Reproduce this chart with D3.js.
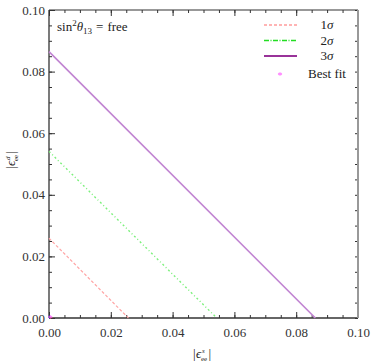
<!DOCTYPE html>
<html>
<head>
<meta charset="utf-8">
<script src="https://cdn.jsdelivr.net/npm/d3@7"></script>
<style>
  body { margin: 0; background: #fff; }
  svg text { font-family: "Liberation Serif", "Times New Roman", "DejaVu Serif", serif; }
</style>
</head>
<body>
<script>
// contour lines: |eps_s| vs |eps_d|, each a straight line between the axes
const levels = ["1σ", "2σ", "3σ"]
const xEnds = [0.0257, 0.0543, 0.0862]
const yEnds = [0.0259, 0.0541, 0.0865]
const colors = ["#ffa4a4", "#7cf07c", "#c184d2"]
const legendColors = ["#ff9c9c", "#22dd22", "#993399"]
const dashes = ["3,2", "2,2.5,1,2.5", null]
const legendDashes = ["3,2", "5,1.5,1,1.5", null]
const widths = [1.2, 1.4, 1.6]
const bestFit = [0.0004, 0.0002]
const ticks = [0, 0.02, 0.04, 0.06, 0.08, 0.10]

const w = 382, h = 364
const m = { left: 49, right: 24, top: 10, bottom: 46 }

const svg = d3.select("body").append("svg")
  .attr("width", w)
  .attr("height", h)

const x = d3.scaleLinear().domain([0, 0.1]).range([m.left, w - m.right])
const y = d3.scaleLinear().domain([0, 0.1]).range([h - m.bottom, m.top])

const minor = d3.range(0, 0.1001, 0.005)

// inward ticks on all four sides
const xAxis = d3.axisBottom(x).tickValues(minor).tickSize(-3).tickFormat("")
const xMajor = d3.axisBottom(x).tickValues(ticks).tickSize(-6).tickFormat(d3.format(".2f")).tickPadding(10)
const xTop = d3.axisTop(x).tickValues(minor).tickSize(-3).tickFormat("")
const xTopMajor = d3.axisTop(x).tickValues(ticks).tickSize(-6).tickFormat("")
const yAxis = d3.axisLeft(y).tickValues(minor).tickSize(-3).tickFormat("")
const yMajor = d3.axisLeft(y).tickValues(ticks).tickSize(-6).tickFormat(d3.format(".2f")).tickPadding(4)
const yRight = d3.axisRight(y).tickValues(minor).tickSize(-3).tickFormat("")

function styleAxis(g) {
  g.attr("font-family", null)
  g.selectAll("path").remove()
  g.selectAll("line").attr("stroke", "#333")
  g.selectAll("text")
    .style("font-size", "13px")
    .attr("fill", "#333")
}

svg.append("g").attr("transform", `translate(0,${y(0)})`).call(xAxis).call(styleAxis)
svg.append("g").attr("transform", `translate(0,${y(0)})`).call(xMajor).call(styleAxis)
svg.append("g").attr("transform", `translate(0,${y(0.1)})`).call(xTop).call(styleAxis)
svg.append("g").attr("transform", `translate(0,${y(0.1)})`).call(xTopMajor).call(styleAxis)
svg.append("g").attr("transform", `translate(${x(0)},0)`).call(yAxis).call(styleAxis)
svg.append("g").attr("transform", `translate(${x(0)},0)`).call(yMajor).call(styleAxis)
svg.append("g").attr("transform", `translate(${x(0.1)},0)`).call(yRight).call(styleAxis)

// frame
svg.append("line").attr("x1", x(0)).attr("x2", x(0.1)).attr("y1", y(0)).attr("y2", y(0))
  .attr("stroke", "#333").attr("stroke-width", 1.3)
svg.append("line").attr("x1", x(0)).attr("x2", x(0.1)).attr("y1", y(0.1)).attr("y2", y(0.1))
  .attr("stroke", "#333").attr("stroke-width", 1.1)
svg.append("line").attr("x1", x(0)).attr("x2", x(0)).attr("y1", y(0)).attr("y2", y(0.1))
  .attr("stroke", "#333").attr("stroke-width", 1.3)
svg.append("line").attr("x1", x(0.1)).attr("x2", x(0.1)).attr("y1", y(0)).attr("y2", y(0.1))
  .attr("stroke", "#999").attr("stroke-width", 2)

// contours
const line = d3.line().x(d => x(d[0])).y(d => y(d[1]))
levels.forEach((lv, i) => {
  svg.append("path")
    .datum([[0, yEnds[i]], [xEnds[i], 0]])
    .attr("d", line)
    .attr("fill", "none")
    .attr("stroke", colors[i])
    .attr("stroke-width", widths[i])
    .attr("stroke-dasharray", dashes[i])
})

// best fit
svg.append("text")
  .attr("x", x(bestFit[0]))
  .attr("y", y(bestFit[1]) + 5)
  .attr("text-anchor", "middle")
  .style("font-size", "10px")
  .style("fill", "#ff55ff")
  .text("*")

// title
const title = svg.append("text")
  .attr("x", 57)
  .attr("y", 31)
  .style("font-size", "13px")
  .style("fill", "#222")
title.append("tspan").text("sin")
title.append("tspan").attr("dy", -5).style("font-size", "9px").text("2")
title.append("tspan").attr("dy", 5).style("font-style", "italic").text("θ")
title.append("tspan").attr("dy", 3).style("font-size", "9px").text("13")
title.append("tspan").attr("dy", -3).attr("dx", 4).text("=")
title.append("tspan").attr("dx", 4).text("free")

// legend
const legend = svg.append("g")
levels.forEach((lv, i) => {
  const ly = 25 + i * 15.5
  legend.append("line")
    .attr("x1", 264).attr("x2", 297)
    .attr("y1", ly).attr("y2", ly)
    .attr("stroke", legendColors[i])
    .attr("stroke-width", i == 2 ? 1.8 : 1.5)
    .attr("stroke-dasharray", legendDashes[i])
  const t = legend.append("text")
    .attr("x", 327).attr("y", ly + 4)
    .attr("text-anchor", "middle")
    .style("font-size", "13px")
    .style("fill", "#222")
  t.append("tspan").text(lv[0])
  t.append("tspan").style("font-style", "italic").text("σ")
})
legend.append("text")
  .attr("x", 280).attr("y", 79)
  .attr("text-anchor", "middle")
  .style("font-size", "10px")
  .style("fill", "#ff55ff")
  .text("*")
legend.append("text")
  .attr("x", 327).attr("y", 78)
  .attr("text-anchor", "middle")
  .style("font-size", "13px")
  .style("fill", "#222")
  .text("Best fit")

// axis labels: |eps| with stacked super/subscripts
function epsLabel(g, sup) {
  g.append("text").attr("x", -9).attr("y", 4).style("font-size", "13px").style("fill", "#222").text("|")
  g.append("text").attr("x", -6).attr("y", 4).style("font-size", "13px").style("font-style", "italic").style("fill", "#222").text("ϵ")
  g.append("text").attr("x", 0).attr("y", -1).style("font-size", "7px").style("font-style", "italic").style("fill", "#222").text(sup)
  g.append("text").attr("x", -1).attr("y", 7).style("font-size", "7px").style("fill", "#222").text("ee")
  g.append("text").attr("x", 6.5).attr("y", 4).style("font-size", "13px").style("fill", "#222").text("|")
}

const xl = svg.append("g").attr("transform", "translate(202,354)")
epsLabel(xl, "s")
const yl = svg.append("g").attr("transform", "translate(11,160) rotate(-90)")
epsLabel(yl, "d")
</script>
</body>
</html>
